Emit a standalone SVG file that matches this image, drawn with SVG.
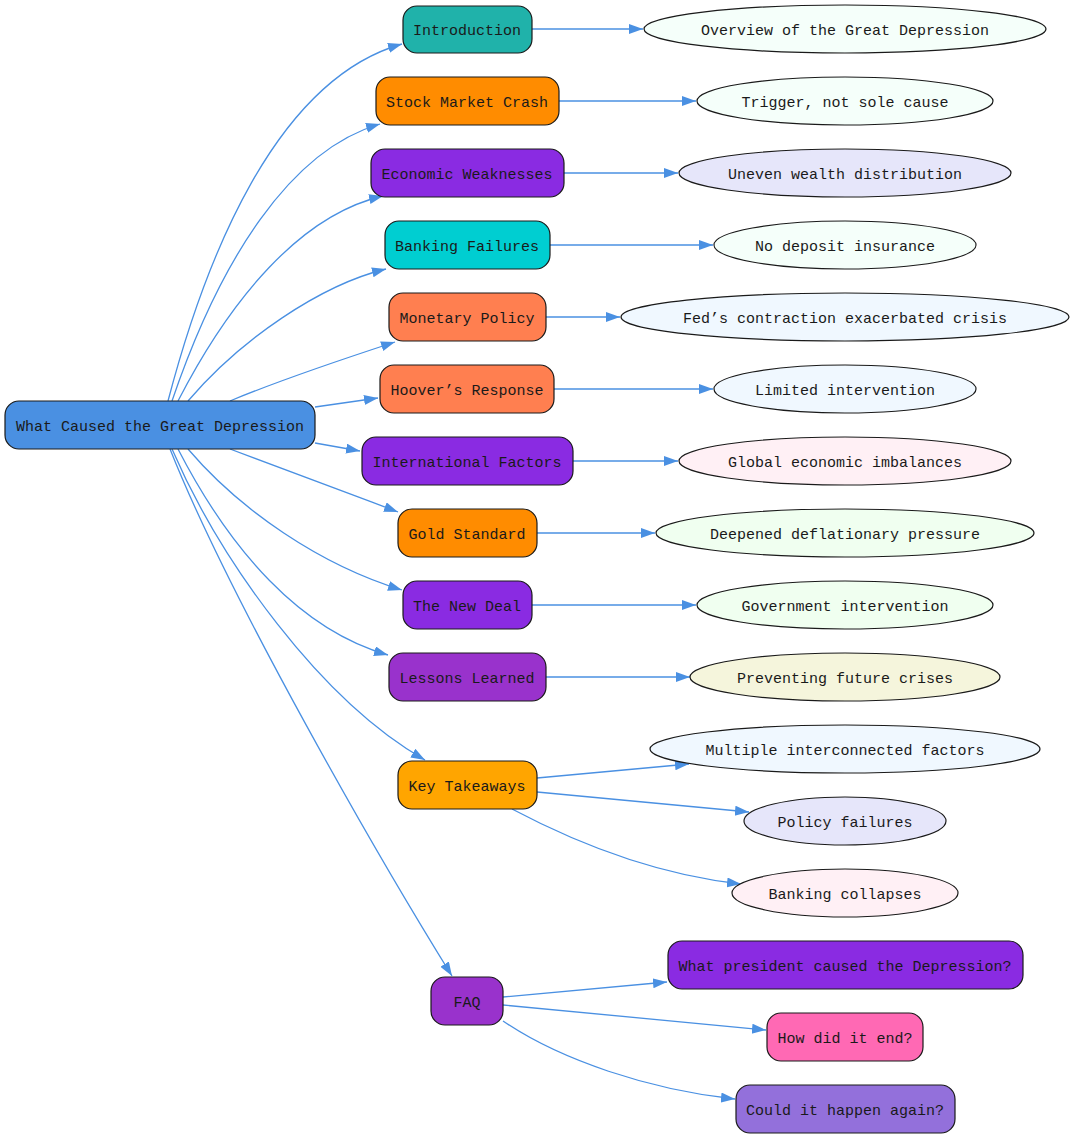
<svg xmlns="http://www.w3.org/2000/svg" width="1075" height="1139" viewBox="0 0 1075 1139">
<style>
text{font-family:"Liberation Mono","DejaVu Sans Mono",monospace;font-size:15px;fill:#1a1a1a;text-anchor:middle;dominant-baseline:central}
.box{stroke:#1a1a1a;stroke-width:1.2}
.ell{stroke:#1a1a1a;stroke-width:1.2}
.edge{fill:none;stroke:#4a90e2;stroke-width:1.3}
</style>
<defs>
<marker id="ah" markerUnits="userSpaceOnUse" markerWidth="15" markerHeight="11" refX="14" refY="5" orient="auto">
<path d="M0,0 L14,5 L0,10 z" fill="#4a90e2"/>
</marker>
</defs>
<rect width="1075" height="1139" fill="#ffffff"/>
<g id="edges">
<path class="edge" marker-end="url(#ah)" d="M168,401 C205,260 275,80 402,44"/>
<path class="edge" marker-end="url(#ah)" d="M172,401 C220,260 290,150 380,124"/>
<path class="edge" marker-end="url(#ah)" d="M178,401 C230,300 300,215 383,196"/>
<path class="edge" marker-end="url(#ah)" d="M188,401 C240,340 320,285 386,269"/>
<path class="edge" marker-end="url(#ah)" d="M230,401 C280,380 340,360 395,342"/>
<path class="edge" marker-end="url(#ah)" d="M315,407 L378,398"/>
<path class="edge" marker-end="url(#ah)" d="M315,443 L360,451"/>
<path class="edge" marker-end="url(#ah)" d="M230,449 C280,468 340,490 398,512"/>
<path class="edge" marker-end="url(#ah)" d="M188,449 C240,510 320,565 402,590"/>
<path class="edge" marker-end="url(#ah)" d="M178,449 C230,550 300,630 388,655"/>
<path class="edge" marker-end="url(#ah)" d="M172,449 C220,560 320,700 425,760"/>
<path class="edge" marker-end="url(#ah)" d="M170,449 C230,600 380,860 452,976"/>
<path class="edge" marker-end="url(#ah)" d="M532,29 L643,29"/>
<path class="edge" marker-end="url(#ah)" d="M559,101 L696,101"/>
<path class="edge" marker-end="url(#ah)" d="M564,173 L678,173"/>
<path class="edge" marker-end="url(#ah)" d="M550,245 L713,245"/>
<path class="edge" marker-end="url(#ah)" d="M546,317 L620,317"/>
<path class="edge" marker-end="url(#ah)" d="M554,389 L713,389"/>
<path class="edge" marker-end="url(#ah)" d="M573,461 L678,461"/>
<path class="edge" marker-end="url(#ah)" d="M537,533 L655,533"/>
<path class="edge" marker-end="url(#ah)" d="M532,605 L696,605"/>
<path class="edge" marker-end="url(#ah)" d="M546,677 L690,677"/>
<path class="edge" marker-end="url(#ah)" d="M537,778 L689,764"/>
<path class="edge" marker-end="url(#ah)" d="M537,792 L749,812"/>
<path class="edge" marker-end="url(#ah)" d="M512,809 C580,845 660,875 741,884"/>
<path class="edge" marker-end="url(#ah)" d="M503,997 L667,982"/>
<path class="edge" marker-end="url(#ah)" d="M503,1005 L766,1030"/>
<path class="edge" marker-end="url(#ah)" d="M503,1021 C560,1060 650,1090 735,1099"/>
</g>
<g id="root"><rect class="box" x="5" y="401" width="310" height="48" rx="14" fill="#4a90e2"/><text x="160" y="427">What Caused the Great Depression</text></g>
<g id="introduction"><rect class="box" x="403" y="6" width="129" height="47" rx="14" fill="#20b2aa"/><text x="467" y="31">Introduction</text></g>
<g id="stock"><rect class="box" x="376" y="77" width="183" height="48" rx="14" fill="#ff8c00"/><text x="467" y="103">Stock Market Crash</text></g>
<g id="economic"><rect class="box" x="371" y="149" width="193" height="48" rx="14" fill="#8a2be2"/><text x="467" y="175">Economic Weaknesses</text></g>
<g id="banking"><rect class="box" x="385" y="221" width="165" height="48" rx="14" fill="#00ced1"/><text x="467" y="247">Banking Failures</text></g>
<g id="monetary"><rect class="box" x="389" y="293" width="157" height="48" rx="14" fill="#ff7f50"/><text x="467" y="319">Monetary Policy</text></g>
<g id="hoover"><rect class="box" x="380" y="365" width="174" height="48" rx="14" fill="#ff7f50"/><text x="467" y="391">Hoover’s Response</text></g>
<g id="international"><rect class="box" x="362" y="437" width="211" height="48" rx="14" fill="#8a2be2"/><text x="467" y="463">International Factors</text></g>
<g id="gold"><rect class="box" x="398" y="509" width="139" height="48" rx="14" fill="#ff8c00"/><text x="467" y="535">Gold Standard</text></g>
<g id="newdeal"><rect class="box" x="403" y="581" width="129" height="48" rx="14" fill="#8a2be2"/><text x="467" y="607">The New Deal</text></g>
<g id="lessons"><rect class="box" x="389" y="653" width="157" height="48" rx="14" fill="#9932cc"/><text x="467" y="679">Lessons Learned</text></g>
<g id="takeaways"><rect class="box" x="398" y="761" width="139" height="48" rx="14" fill="#ffa500"/><text x="467" y="787">Key Takeaways</text></g>
<g id="faq"><rect class="box" x="431" y="977" width="72" height="48" rx="14" fill="#9932cc"/><text x="467" y="1003">FAQ</text></g>
<g id="overview"><ellipse class="ell" cx="845" cy="29" rx="201" ry="24" fill="#f5fffa"/><text x="845" y="31">Overview of the Great Depression</text></g>
<g id="trigger"><ellipse class="ell" cx="845" cy="101" rx="148" ry="24" fill="#f5fffa"/><text x="845" y="103">Trigger, not sole cause</text></g>
<g id="uneven"><ellipse class="ell" cx="845" cy="173" rx="166" ry="24" fill="#e6e6fa"/><text x="845" y="175">Uneven wealth distribution</text></g>
<g id="deposit"><ellipse class="ell" cx="845" cy="245" rx="131" ry="24" fill="#f5fffa"/><text x="845" y="247">No deposit insurance</text></g>
<g id="fed"><ellipse class="ell" cx="845" cy="317" rx="224" ry="24" fill="#f0f8ff"/><text x="845" y="319">Fed’s contraction exacerbated crisis</text></g>
<g id="limited"><ellipse class="ell" cx="845" cy="389" rx="131" ry="24" fill="#f0f8ff"/><text x="845" y="391">Limited intervention</text></g>
<g id="global"><ellipse class="ell" cx="845" cy="461" rx="166" ry="24" fill="#fff0f5"/><text x="845" y="463">Global economic imbalances</text></g>
<g id="deflation"><ellipse class="ell" cx="845" cy="533" rx="189" ry="24" fill="#f0fff0"/><text x="845" y="535">Deepened deflationary pressure</text></g>
<g id="government"><ellipse class="ell" cx="845" cy="605" rx="148" ry="24" fill="#f0fff0"/><text x="845" y="607">Government intervention</text></g>
<g id="preventing"><ellipse class="ell" cx="845" cy="677" rx="155" ry="24" fill="#f5f5dc"/><text x="845" y="679">Preventing future crises</text></g>
<g id="multiple"><ellipse class="ell" cx="845" cy="749" rx="195" ry="24" fill="#f0f8ff"/><text x="845" y="751">Multiple interconnected factors</text></g>
<g id="policy"><ellipse class="ell" cx="845" cy="821" rx="101" ry="24" fill="#e6e6fa"/><text x="845" y="823">Policy failures</text></g>
<g id="collapses"><ellipse class="ell" cx="845" cy="893" rx="113" ry="24" fill="#fff0f5"/><text x="845" y="895">Banking collapses</text></g>
<g id="president"><rect class="box" x="668" y="941" width="355" height="48" rx="14" fill="#8a2be2"/><text x="845" y="967">What president caused the Depression?</text></g>
<g id="howend"><rect class="box" x="767" y="1013" width="156" height="48" rx="14" fill="#ff69b4"/><text x="845" y="1039">How did it end?</text></g>
<g id="again"><rect class="box" x="736" y="1085" width="219" height="48" rx="14" fill="#9370db"/><text x="845" y="1111">Could it happen again?</text></g>
</svg>
